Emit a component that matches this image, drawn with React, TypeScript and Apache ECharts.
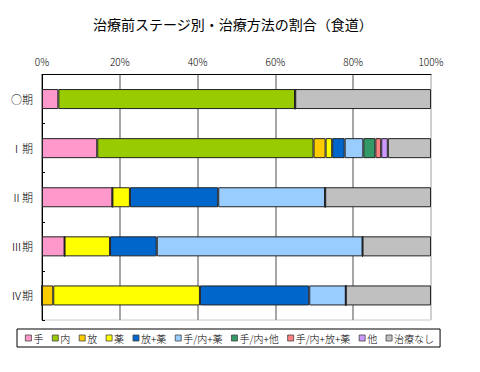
import React, { useEffect, useRef } from "react";
import * as echarts from "echarts";

const title = "治療前ステージ別・治療方法の割合（食道）";
const stages = ["○期", "Ⅰ期", "Ⅱ期", "Ⅲ期", "Ⅳ期"];
const seriesNames = ["手", "内", "放", "薬", "放+薬", "手/内+薬", "手/内+他", "手/内+放+薬", "他", "治療なし"];
const colors = ["#FF99CC", "#99CC00", "#FFCC00", "#FFFF00", "#0066CC", "#99CCFF", "#339966", "#FF8080", "#CC99FF", "#C0C0C0"];

// percentages per stage (○, I, II, III, IV)
const v手 = [4.2, 14.2, 18.1, 5.8, 0];
const v内 = [60.9, 55.6, 0, 0, 0];
const v放 = [0, 3.1, 0, 0, 2.9];
const v薬 = [0, 1.7, 4.5, 11.7, 37.7];
const v放薬 = [0, 3.2, 22.7, 12.0, 28.1];
const v手内薬 = [0, 4.8, 27.5, 52.9, 9.4];
const v手内他 = [0, 3.1, 0, 0, 0];
const v手内放薬 = [0, 1.5, 0, 0, 0];
const v他 = [0, 1.7, 0, 0, 0];
const vなし = [34.9, 11.1, 27.2, 17.6, 21.9];

const allValues = [v手, v内, v放, v薬, v放薬, v手内薬, v手内他, v手内放薬, v他, vなし];
const xTicks = [0, 20, 40, 60, 80, 100];

const FONT = "'Noto Sans CJK JP', sans-serif";

export default function App() {
  const ref = useRef<HTMLDivElement>(null);
  useEffect(() => {
    if (!ref.current) return;
    const chart = echarts.init(ref.current, null, { renderer: "svg" });
    chart.setOption({
      animation: false,
      backgroundColor: "#ffffff",
      title: {
        text: title,
        left: 88,
        top: 12,
        textStyle: { fontFamily: FONT, fontSize: 14, fontWeight: "normal", color: "#000" },
      },
      legend: {
        data: seriesNames,
        left: 17,
        top: 329,
        icon: "rect",
        itemWidth: 6,
        itemHeight: 6,
        itemGap: 8.5,
        padding: [4, 6, 4, 8],
        borderColor: "#000",
        borderWidth: 1,
        textStyle: { fontFamily: FONT, fontSize: 10, fontWeight: 300, color: "#000", padding: [0, 0, 0, -3] },
        itemStyle: { borderColor: "#444", borderWidth: 0.8 },
      },
      grid: {
        left: 42,
        right: 49,
        top: 74.5,
        bottom: 52,
        show: true,
        borderColor: "#c8c8c8",
        borderWidth: 1,
      },
      xAxis: {
        type: "value",
        position: "top",
        min: 0,
        max: 100,
        interval: 20,
        axisLine: { show: true, lineStyle: { color: "#000", width: 1 } },
        axisTick: { show: false },
        axisLabel: {
          formatter: (v: number) => (xTicks.includes(v) ? v + "%" : ""),
          fontFamily: FONT,
          fontSize: 10,
          fontWeight: 300,
          color: "#000",
          margin: 8,
        },
        splitLine: {
          show: true,
          lineStyle: { color: ["#888", "#888", "#888", "#888", "#888", "#c8c8c8"], width: 1.5 },
        },
      },
      yAxis: {
        type: "category",
        data: stages,
        inverse: true,
        axisLine: { show: true, lineStyle: { color: "#000", width: 1 } },
        axisTick: { show: true, inside: true, length: 3, lineStyle: { color: "#000" } },
        axisLabel: { fontFamily: FONT, fontSize: 11, fontWeight: 300, color: "#000", margin: 9 },
      },
      series: seriesNames.map((name, i) => ({
        name,
        type: "bar",
        stack: "total",
        data: allValues[i],
        barWidth: 20,
        itemStyle: { color: colors[i], borderColor: "#222", borderWidth: 1 },
      })),
    });
    return () => chart.dispose();
  }, []);
  return <div ref={ref} style={{ width: 480, height: 372, position: "absolute", left: 0, top: 0 }} />;
}
